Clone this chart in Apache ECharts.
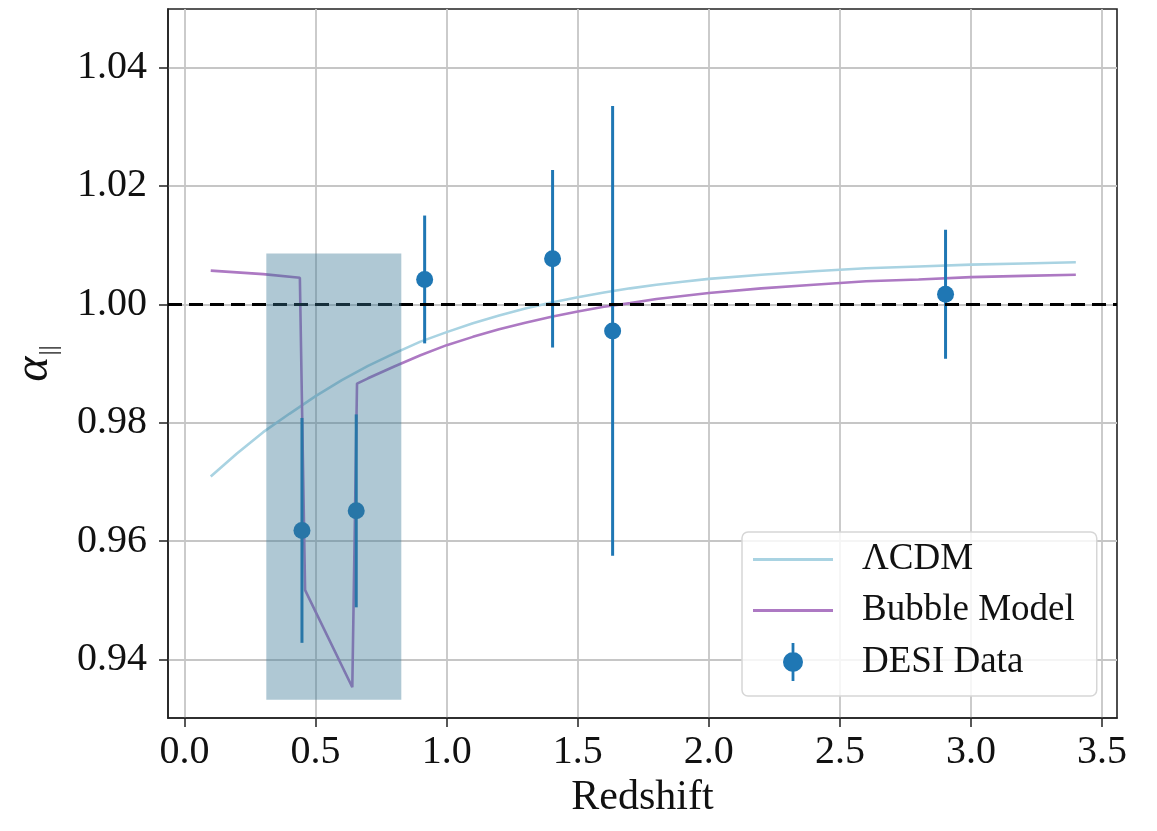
<!DOCTYPE html>
<html>
<head>
<meta charset="utf-8">
<script src="https://cdn.jsdelivr.net/npm/echarts@6/dist/echarts.min.js"></script>
<style>
  html, body { margin: 0; padding: 0; background: #ffffff; }
  #chart { width: 1157px; height: 831px; }
</style>
</head>
<body>
<div id="chart"></div>
<script>
// ---- Data ----
const xTicks = [0.0, 0.5, 1.0, 1.5, 2.0, 2.5, 3.0, 3.5];
const yTicks = [0.94, 0.96, 0.98, 1.00, 1.02, 1.04];

const lcdmZ     = [0.1, 0.2, 0.3, 0.4, 0.5, 0.6, 0.7, 0.8, 0.9, 1.0, 1.1, 1.2, 1.3, 1.4, 1.5, 1.6, 1.7, 1.8, 1.9, 2.0, 2.2, 2.4, 2.6, 2.8, 3.0, 3.2, 3.4];
const lcdmAlpha = [0.9709, 0.9748, 0.9784, 0.9815, 0.9845, 0.9872, 0.9896, 0.9917, 0.9937, 0.9953, 0.9968, 0.9981, 0.9993, 1.0003, 1.0012, 1.0020, 1.0027, 1.0033, 1.0038, 1.0043, 1.0050, 1.0056, 1.0061, 1.0064, 1.0067, 1.0069, 1.0071];

const bubbleZ     = [0.1, 0.2, 0.3, 0.44, 0.46, 0.64, 0.658, 0.7, 0.8, 0.9, 1.0, 1.1, 1.2, 1.3, 1.4, 1.5, 1.6, 1.7, 1.8, 1.9, 2.0, 2.2, 2.4, 2.6, 2.8, 3.0, 3.2, 3.4];
const bubbleAlpha = [1.0057, 1.0054, 1.0051, 1.0045, 0.9517, 0.9353, 0.9866, 0.9875, 0.9895, 0.9914, 0.9931, 0.9945, 0.9958, 0.9969, 0.9979, 0.9988, 0.9996, 1.0002, 1.0009, 1.0014, 1.0019, 1.0027, 1.0033, 1.0039, 1.0042, 1.0046, 1.0048, 1.0050];

const desiZ     = [0.448, 0.655, 0.916, 1.404, 1.633, 2.903];
const desiAlpha = [0.9618, 0.9651, 1.0042, 1.0077, 0.9955, 1.0017];
const desiErr   = [0.0190, 0.0163, 0.0108, 0.0150, 0.0380, 0.0109];

const referenceLevel = 1.0;
// shaded region: [zStart, zEnd, alphaLow, alphaHigh]
const shadedRegion = [0.312, 0.827, 0.9332, 1.0086];

const xRange = [-0.063, 3.557];
const yRange = [0.9301, 1.0499];

// ---- Build series data ----
const lcdmData = lcdmZ.map((z, i) => [z, lcdmAlpha[i]]);
const bubbleData = bubbleZ.map((z, i) => [z, bubbleAlpha[i]]);
const desiData = desiZ.map((z, i) => [z, desiAlpha[i]]);
const errData = desiZ.map((z, i) => [z, desiAlpha[i] - desiErr[i], desiAlpha[i] + desiErr[i]]);

const FONT = 'Liberation Serif';
const C_LCDM = '#a9d3e2';
const C_BUB = '#ad79c3';
const C_DESI = '#1f77b4';

const chart = echarts.init(document.getElementById('chart'), null, { renderer: 'canvas' });

const option = {
  animation: false,
  backgroundColor: '#ffffff',
  grid: {
    left: 168, right: 40, top: 9, bottom: 113,
    show: true, borderColor: '#222', borderWidth: 1.6, backgroundColor: 'transparent'
  },
  xAxis: {
    type: 'value',
    min: xRange[0], max: xRange[1],
    minInterval: 0.5, maxInterval: 0.5,
    name: 'Redshift',
    nameLocation: 'middle',
    nameGap: 56,
    nameTextStyle: { fontFamily: FONT, fontSize: 42, color: '#111' },
    axisLine: { show: true, onZero: false, lineStyle: { color: '#222', width: 1.6 } },
    axisTick: { show: true, length: 9, lineStyle: { color: '#222', width: 1.5 }, customValues: xTicks },
    axisLabel: {
      fontFamily: FONT, fontSize: 40, color: '#111', margin: 14,
      customValues: xTicks,
      formatter: v => v.toFixed(1)
    },
    splitLine: { show: true, lineStyle: { color: '#c6c6c6', width: 1.8 } }
  },
  yAxis: {
    type: 'value',
    min: yRange[0], max: yRange[1],
    minInterval: 0.02, maxInterval: 0.02,
    name: '{a|α}{b|||}',
    nameLocation: 'middle',
    nameRotate: 90,
    nameGap: 106,
    nameTextStyle: {
      color: '#111',
      rich: {
        a: { fontFamily: FONT, fontSize: 48, fontStyle: 'italic', color: '#111', lineHeight: 56, verticalAlign: 'middle' },
        b: { fontFamily: FONT, fontSize: 26, color: '#111', lineHeight: 56, verticalAlign: 'bottom', padding: [0, 0, 0, 1] }
      }
    },
    axisLine: { show: true, onZero: false, lineStyle: { color: '#222', width: 1.6 } },
    axisTick: { show: true, length: 9, lineStyle: { color: '#222', width: 1.5 }, customValues: yTicks },
    axisLabel: {
      fontFamily: FONT, fontSize: 40, color: '#111', margin: 21,
      customValues: yTicks,
      formatter: v => v.toFixed(2)
    },
    splitLine: { show: true, lineStyle: { color: '#c6c6c6', width: 1.8 } }
  },
  legend: {
    orient: 'vertical',
    left: 742, top: 532,
    padding: [9, 22, 15, 11],
    itemWidth: 80, itemHeight: 38, itemGap: 14,
    symbolKeepAspect: true,
    backgroundColor: 'rgba(255,255,255,0.82)',
    borderColor: '#d6d6d6', borderWidth: 1.5, borderRadius: 6,
    selectedMode: false,
    textStyle: { fontFamily: FONT, fontSize: 37, color: '#111', padding: [0, 0, 0, 24] },
    data: [
      { name: 'ΛCDM', icon: 'path://M0,0 L80,0 L80,3 L0,3 Z' },
      { name: 'Bubble Model', icon: 'path://M0,0 L80,0 L80,3 L0,3 Z' },
      { name: 'DESI Data', icon: 'path://M8.6,0 L11.4,0 L11.4,12 L8.6,12 Z M8.6,26 L11.4,26 L11.4,38 L8.6,38 Z M0,19 A10,10 0 1,1 20,19 A10,10 0 1,1 0,19 Z' }
    ]
  },
  series: [
    {
      name: 'ΛCDM', type: 'line', data: lcdmData, z: 2,
      showSymbol: false, symbol: 'none', smooth: false,
      color: C_LCDM,
      lineStyle: { color: C_LCDM, width: 2.6 },
      itemStyle: { color: C_LCDM }
    },
    {
      name: 'Bubble Model', type: 'line', data: bubbleData, z: 2,
      showSymbol: false, symbol: 'none', smooth: false,
      color: C_BUB,
      lineStyle: { color: C_BUB, width: 2.6 },
      itemStyle: { color: C_BUB }
    },
    {
      name: 'DESI errors', type: 'custom', z: 3,
      data: errData,
      encode: { x: 0, y: [1, 2] },
      renderItem: (params, api) => {
        const x = api.value(0);
        const p1 = api.coord([x, api.value(2)]);
        const p2 = api.coord([x, api.value(1)]);
        return {
          type: 'line',
          shape: { x1: p1[0], y1: p1[1], x2: p2[0], y2: p2[1] },
          style: { stroke: C_DESI, lineWidth: 3 }
        };
      }
    },
    {
      name: 'DESI Data', type: 'scatter', data: desiData, z: 4,
      symbol: 'circle', symbolSize: 17,
      color: C_DESI,
      itemStyle: { color: C_DESI, opacity: 1 },
      markLine: {
        silent: true, symbol: ['none', 'none'],
        label: { show: false },
        lineStyle: { color: '#000', width: 2.8, type: [14, 7] },
        data: [{ yAxis: referenceLevel }]
      }
    },
    {
      name: 'shade', type: 'custom', z: 10,
      data: [shadedRegion],
      encode: { x: [0, 1], y: [2, 3] },
      renderItem: (params, api) => {
        const a = api.coord([api.value(0), api.value(3)]);
        const b = api.coord([api.value(1), api.value(2)]);
        return {
          type: 'rect',
          shape: { x: a[0], y: a[1], width: b[0] - a[0], height: b[1] - a[1] },
          style: { fill: 'rgba(55,118,148,0.40)' }
        };
      }
    }
  ]
};

chart.setOption(option);
</script>
</body>
</html>
